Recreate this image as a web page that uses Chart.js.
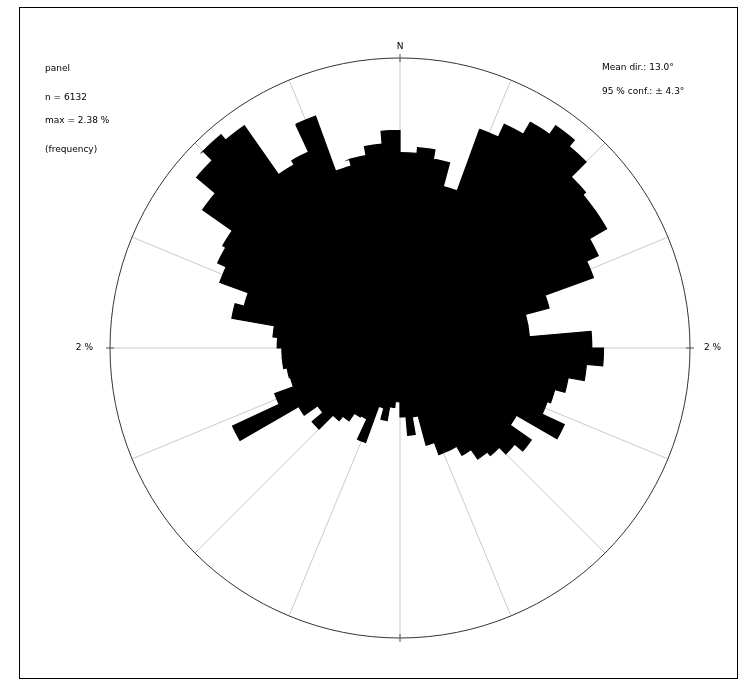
<!DOCTYPE html>
<html><head><meta charset="utf-8">
<script src="https://cdn.jsdelivr.net/npm/chart.js@4.4.0/dist/chart.umd.min.js"></script>
<style>html,body{margin:0;padding:0;background:#fff;}#wrap{width:750px;height:687px;position:relative;}</style>
</head><body><div id="wrap"><canvas id="c" width="750" height="687"></canvas></div>
<script>
// 5-degree bins, clockwise from North
const binWidth = 5;
const binLabels = Array.from({length: 72}, (_, i) => (i * binWidth) + '–' + (i * binWidth + binWidth) + '°');
// frequency (%) per bin
const frequency = [
  1.67, 1.72, 1.64, 1.43, 1.99, 2.11, 2.23, 2.32, 2.25, 2.07, 2.04, 2.04,
  1.87, 1.76, 1.32, 1.11, 1.11, 1.64, 1.74, 1.60, 1.46, 1.37, 1.34, 1.55,
  1.15, 1.37, 1.28, 1.20, 1.16, 1.06, 0.97, 0.97, 0.86, 0.60, 0.75, 0.59,
  0.46, 0.51, 0.63, 0.53, 0.86, 0.67, 0.68, 0.76, 0.81, 0.98, 0.86, 1.00,
  1.58, 1.14, 0.97, 0.98, 1.01, 1.01, 1.05, 1.09, 1.46, 1.38, 1.64, 1.72,
  1.75, 2.06, 2.27, 2.38, 2.32, 1.81, 1.85, 2.11, 1.61, 1.67, 1.75, 1.86
];
const radialMax = 2.48;
const ringLabel = '2 %';
const northLabel = 'N';
const infoLeft = ['panel', 'n = 6132', 'max = 2.38 %', '(frequency)'];
const infoRight = ['Mean dir.: 13.0°', '95 % conf.: ± 4.3°'];
const spokeCount = 16;

const FONT = '9px "DejaVu Sans", sans-serif';

const decor = {
  id: 'decor',
  beforeDatasetsDraw(chart) {
    const ctx = chart.ctx;
    const s = chart.scales.r;
    const R = s.drawingArea;
    ctx.save();
    // frame
    ctx.strokeStyle = '#000';
    ctx.lineWidth = 1;
    ctx.strokeRect(19.5, 7.5, 718, 671);
    // spokes
    ctx.strokeStyle = '#bdbdbd';
    ctx.lineWidth = 0.8;
    for (let k = 0; k < spokeCount; k++) {
      const a = k * 2 * Math.PI / spokeCount;
      ctx.beginPath();
      ctx.moveTo(s.xCenter, s.yCenter);
      ctx.lineTo(s.xCenter + R * Math.sin(a), s.yCenter - R * Math.cos(a));
      ctx.stroke();
    }
    ctx.restore();
  },
  afterDatasetsDraw(chart) {
    const ctx = chart.ctx;
    const s = chart.scales.r;
    const R = s.drawingArea;
    const cx = s.xCenter, cy = s.yCenter;
    ctx.save();
    // outer circle
    ctx.strokeStyle = '#333';
    ctx.lineWidth = 1;
    ctx.beginPath();
    ctx.arc(cx, cy, R, 0, 2 * Math.PI);
    ctx.stroke();
    // cardinal ticks
    ctx.strokeStyle = '#555';
    for (let k = 0; k < 4; k++) {
      const a = k * Math.PI / 2;
      ctx.beginPath();
      ctx.moveTo(cx + (R - 4) * Math.sin(a), cy - (R - 4) * Math.cos(a));
      ctx.lineTo(cx + (R + 4) * Math.sin(a), cy - (R + 4) * Math.cos(a));
      ctx.stroke();
    }
    // texts
    ctx.fillStyle = '#000';
    ctx.font = FONT;
    ctx.textBaseline = 'middle';
    ctx.textAlign = 'center';
    ctx.fillText(northLabel, cx, cy - R - 11);
    ctx.textAlign = 'right';
    ctx.fillText(ringLabel, cx - R - 17, cy);
    ctx.textAlign = 'left';
    ctx.fillText(ringLabel, cx + R + 14, cy);
    const leftY = [69, 98, 121, 150];
    infoLeft.forEach((t, i) => ctx.fillText(t, 45, leftY[i]));
    const rightY = [68, 92];
    infoRight.forEach((t, i) => ctx.fillText(t, 602, rightY[i]));
    ctx.restore();
  }
};

new Chart(document.getElementById('c'), {
  type: 'polarArea',
  data: {
    labels: binLabels,
    datasets: [{
      data: frequency,
      backgroundColor: '#000',
      borderColor: '#000',
      borderWidth: 1.2,
      borderJoinStyle: 'miter'
    }]
  },
  options: {
    responsive: false,
    animation: false,
    devicePixelRatio: 1,
    layout: { padding: { left: 110, right: 60, top: 58, bottom: 49 } },
    plugins: { legend: { display: false }, tooltip: { enabled: false } },
    scales: {
      r: {
        min: 0,
        max: radialMax,
        startAngle: 0,
        ticks: { display: false },
        grid: { display: false },
        angleLines: { display: false },
        pointLabels: { display: false }
      }
    }
  },
  plugins: [decor]
});
</script>
</body></html>
